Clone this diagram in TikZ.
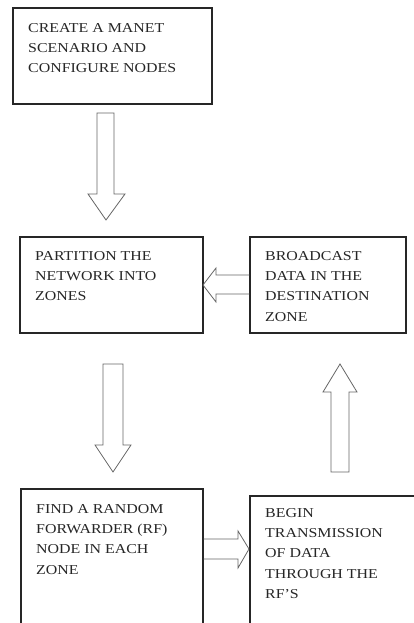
\documentclass[tikz,border=0pt]{standalone}
\usepackage{fontspec}
\setmainfont{Liberation Serif}[FakeStretch=1.17]
\begin{document}
\begin{tikzpicture}[x=1pt,y=-1pt,
  box/.style={draw=black!85,line width=1.1pt,rectangle,inner sep=0pt},
  lbl/.style={anchor=north west,inner sep=0pt,align=left,text=black!85,
    font=\fontsize{13.6pt}{20.3pt}\selectfont},
  blockarrow/.style={draw=black!60,line width=0.8pt,line join=miter}]
\useasboundingbox (0,0) rectangle (414,623);
\fill[white] (0,0) rectangle (414,623);
\clip (0,0) rectangle (414,623);
% boxes
\node[box,minimum width=199pt,minimum height=96pt] (b1) at (112.5,56) {};
\node[box,minimum width=183pt,minimum height=96pt] (b2) at (111.5,285) {};
\node[box,minimum width=156pt,minimum height=96pt] (b3) at (328,285) {};
\node[box,minimum width=182pt,minimum height=160pt] (b4) at (112,569) {};
\node[box,minimum width=180pt,minimum height=150pt] (b5) at (340,571) {};
% texts
\node[lbl] (t1) at (28,23) {CREATE A MANET\\SCENARIO AND\\CONFIGURE NODES};
\node[lbl] (t2) at (35,251) {PARTITION THE\\NETWORK INTO\\ZONES};
\node[lbl] (t3) at (265,251) {BROADCAST\\DATA IN THE\\DESTINATION\\ZONE};
\node[lbl] (t4) at (36,504) {FIND A RANDOM\\FORWARDER (RF)\\NODE IN EACH\\ZONE};
\node[lbl] (t5) at (265,508) {BEGIN\\TRANSMISSION\\OF DATA\\THROUGH THE\\RF'S};
% block arrows
\draw[blockarrow] (97,113) -- (114,113) -- (114,194) -- (125,194) -- (106,220) -- (88,194) -- (97,194) -- cycle;
\draw[blockarrow] (103,364) -- (123,364) -- (123,445) -- (131,445) -- (113,472) -- (95,445) -- (103,445) -- cycle;
\draw[blockarrow] (331,472) -- (349,472) -- (349,392) -- (357,392) -- (340,364) -- (323,392) -- (331,392) -- cycle;
\draw[blockarrow] (b3.west |- 0,275) -- (216,275) -- (216,268) -- (203,285) -- (216,302) -- (216,294) -- (b3.west |- 0,294);
\draw[blockarrow] (b4.east |- 0,539) -- (238,539) -- (238,531) -- (249,549) -- (238,568) -- (238,559) -- (b4.east |- 0,559);
\end{tikzpicture}
\end{document}
